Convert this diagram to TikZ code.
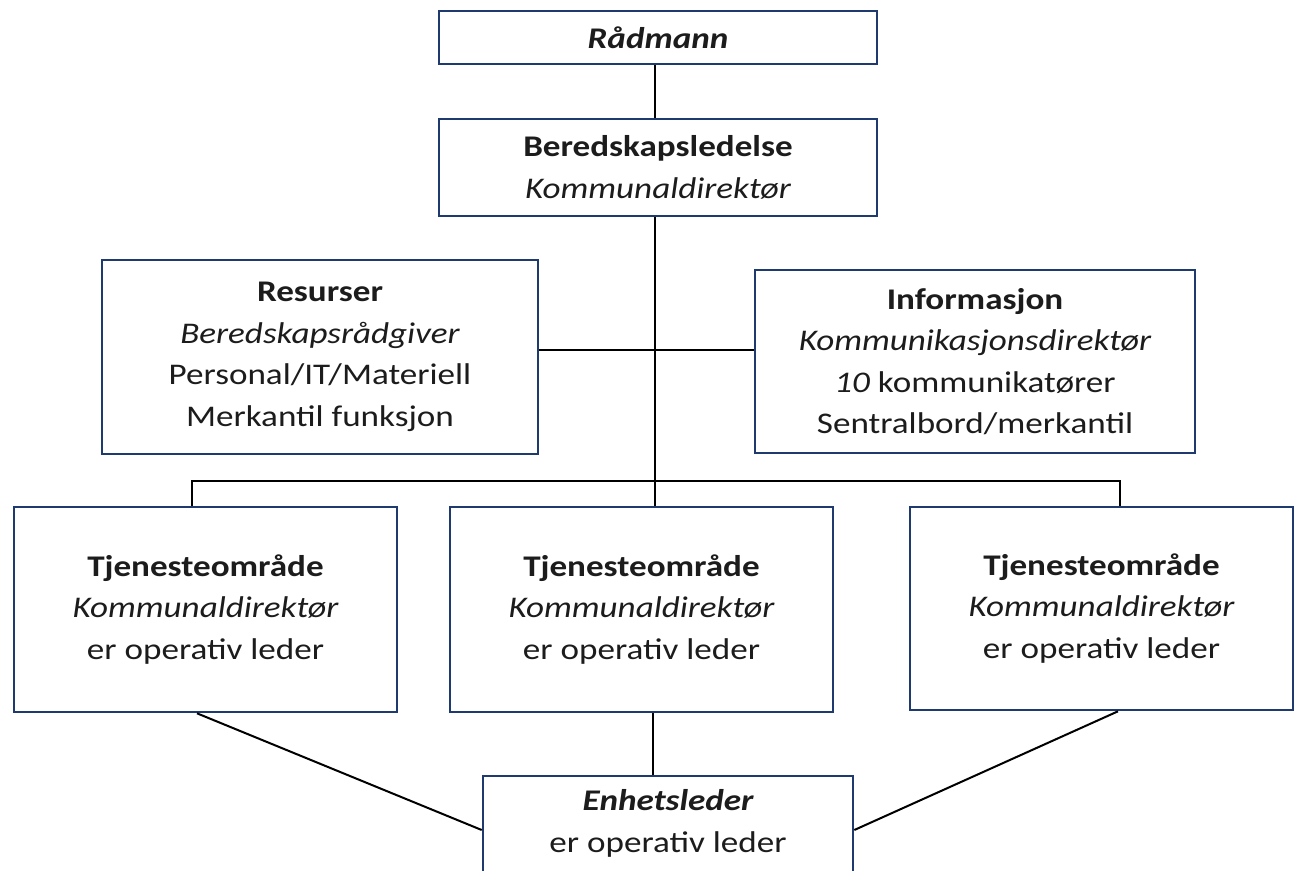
\documentclass[tikz,border=0pt]{standalone}
\usepackage{fontspec}
\setmainfont{Carlito}[FakeStretch=1.17]
\definecolor{boxblue}{HTML}{1F3A6E}
\definecolor{txt}{HTML}{1C1C1C}
\begin{document}
\begin{tikzpicture}[x=1pt,y=-1pt,
  orgbox/.style={draw=boxblue, line width=2.6pt, fill=white, align=center, text=txt,
    font=\fontsize{30}{41.5}\selectfont, inner sep=0pt},
  conn/.style={draw=black, line width=2pt}]
\useasboundingbox (0,0) rectangle (1300,870);
\clip (0,0) rectangle (1300,870);
\fill[white] (0,0) rectangle (1300,870);
% coordinates for connector positions
\coordinate (vx) at (655,0);
\coordinate (hy) at (0,350);
\coordinate (busL) at (192,481);
\coordinate (busR) at (1120,481);
\coordinate (mx) at (653,0);
\coordinate (dl) at (197,0);
\coordinate (dr) at (1118,0);
\coordinate (ey) at (0,830);
\node[orgbox, minimum width=438, minimum height=53] (R) at (658,37.5) {\bfseries\itshape Rådmann};
\node[orgbox, minimum width=438, minimum height=97] (B) at (658,167.5) {\bfseries Beredskapsledelse\\\itshape Kommunaldirektør};
\node[orgbox, minimum width=436, minimum height=194] (Res) at (320,357) {\bfseries Resurser\\\itshape Beredskapsrådgiver\\Personal/IT/Materiell\\Merkantil funksjon};
\node[orgbox, minimum width=440, minimum height=183] (Inf) at (975,361.5) {\bfseries Informasjon\\\itshape Kommunikasjonsdirektør\\{\itshape 10} kommunikatører\\Sentralbord/merkantil};
\node[orgbox, minimum width=383, minimum height=205] (L) at (205.5,609.5) {\bfseries Tjenesteområde\\\itshape Kommunaldirektør\\er operativ leder};
\node[orgbox, minimum width=383, minimum height=205] (M) at (641.5,609.5) {\bfseries Tjenesteområde\\\itshape Kommunaldirektør\\er operativ leder};
\node[orgbox, minimum width=383, minimum height=203] (Rt) at (1101.5,608.5) {\bfseries Tjenesteområde\\\itshape Kommunaldirektør\\er operativ leder};
\node[orgbox, minimum width=370, minimum height=124] (E) at (668,838) {};
\node[align=center, text=txt, font=\fontsize{30}{41.5}\selectfont, anchor=north] (Et) at (668,786) {\bfseries\itshape Enhetsleder\\er operativ leder};
\draw[conn] (R.south -| vx) -- (B.north -| vx);
\draw[conn] (B.south -| vx) -- (M.north -| vx);
\draw[conn] (Res.east |- hy) -- (Inf.west |- hy);
\draw[conn] (L.north -| busL) -- (busL) -- (busR) -- (Rt.north -| busR);
\draw[conn] (M.south -| mx) -- (E.north -| mx);
\draw[conn] (L.south -| dl) -- (E.west |- ey);
\draw[conn] (Rt.south -| dr) -- (E.east |- ey);
\end{tikzpicture}
\end{document}
